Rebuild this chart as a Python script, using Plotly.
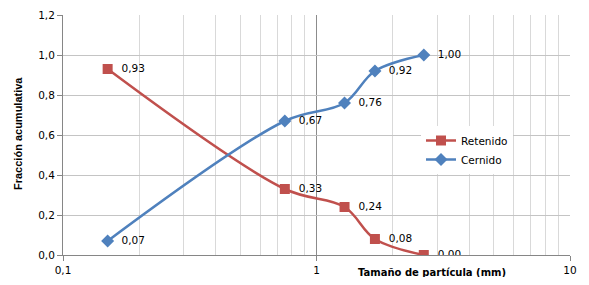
import plotly.graph_objects as go

x_size = [0.15, 0.75, 1.29, 1.70, 2.65]
retenido = [0.93, 0.33, 0.24, 0.08, 0.00]
cernido = [0.07, 0.67, 0.76, 0.92, 1.00]
ret_labels = ["0,93", "0,33", "0,24", "0,08", "0,00"]
cer_labels = ["0,07", "0,67", "0,76", "0,92", "1,00"]
y_ticks = [0.0, 0.2, 0.4, 0.6, 0.8, 1.0, 1.2]
y_ticktext = ["0,0", "0,2", "0,4", "0,6", "0,8", "1,0", "1,2"]
x_ticks = [0.1, 1, 10]
x_ticktext = ["0,1", "1", "10"]
x_minor = [0.2, 0.3, 0.4, 0.5, 0.6, 0.7, 0.8, 0.9, 2, 3, 4, 5, 6, 7, 8, 9]

RED = "#C0504D"
BLUE = "#4F81BD"
FONT = "DejaVu Sans"

W, H = 573, 269
L, R, T, B = 55, 11, 7, 22
PW, PH = W - L - R, H - T - B


def px_x(px):
    return (px - 8 - L) / PW


def px_y(py):
    return (H - B - (py - 8)) / PH


fig = go.Figure()
fig.add_trace(go.Scatter(
    x=x_size, y=retenido, name="Retenido", mode="lines+markers+text",
    text=["  " + t for t in ret_labels], textposition="middle right",
    textfont=dict(family=FONT, size=10.5, color="#000000"),
    line=dict(color=RED, width=2.5, shape="spline", smoothing=1.0),
    marker=dict(symbol="square", size=10, color=RED),
))
fig.add_trace(go.Scatter(
    x=x_size, y=cernido, name="Cernido", mode="lines+markers+text",
    text=["  " + t for t in cer_labels], textposition="middle right",
    textfont=dict(family=FONT, size=10.5, color="#000000"),
    line=dict(color=BLUE, width=2.5, shape="spline", smoothing=1.0),
    marker=dict(symbol="diamond", size=10, color=BLUE),
))

fig.update_layout(
    width=W, height=H,
    margin=dict(l=L, r=R, t=T, b=B, pad=0),
    paper_bgcolor="white", plot_bgcolor="white",
    font=dict(family=FONT, size=10.5, color="#000000"),
    showlegend=True,
    legend=dict(x=px_x(421), y=px_y(126), xanchor="left", yanchor="top",
                bgcolor="white", font=dict(family=FONT, size=10.5),
                itemwidth=30, tracegroupgap=0),
    xaxis=dict(
        type="log", range=[-1, 1], automargin=False,
        tickvals=x_ticks, ticktext=x_ticktext, ticklabeloverflow="allow",
        showgrid=True, gridcolor="#8c8c8c", gridwidth=1,
        showline=True, linecolor="#868686", linewidth=1,
        ticks="outside", ticklen=5, tickcolor="#868686",
        minor=dict(tickvals=x_minor, showgrid=True, gridcolor="#d9d9d9", gridwidth=1, ticks=""),
        zeroline=False,
        tickfont=dict(family=FONT, size=10.5),
    ),
    yaxis=dict(
        range=[0, 1.2], automargin=False,
        tickvals=y_ticks, ticktext=y_ticktext, ticklabeloverflow="allow",
        showgrid=True, gridcolor="#c4c4c4", gridwidth=1,
        showline=True, linecolor="#868686", linewidth=1,
        ticks="outside", ticklen=5, tickcolor="#868686",
        zeroline=False,
        tickfont=dict(family=FONT, size=10.5),
    ),
    annotations=[
        dict(text="<b>Tamaño de partícula (mm)</b>", xref="paper", yref="paper",
             x=px_x(356), y=px_y(272), xanchor="left", yanchor="middle",
             showarrow=False, font=dict(family=FONT, size=10, color="#000000")),
        dict(text="<b>Fracción acumulativa</b>", xref="paper", yref="paper",
             x=px_x(18), y=px_y(134), xanchor="center", yanchor="middle",
             textangle=-90, showarrow=False,
             font=dict(family="Liberation Sans Narrow, Liberation Sans", size=11, color="#000000")),
    ],
)

fig.write_html("out.html")
